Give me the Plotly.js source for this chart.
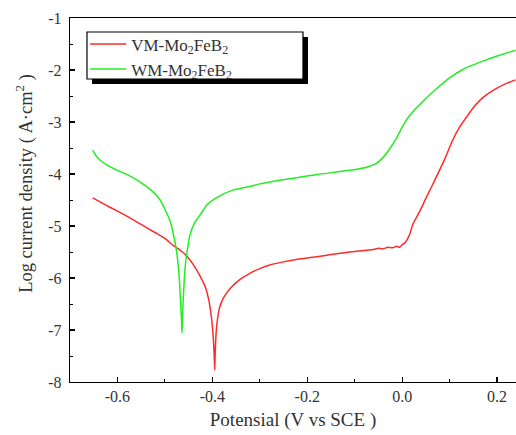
<!DOCTYPE html>
<html>
<head>
<meta charset="utf-8">
<script src="https://cdn.plot.ly/plotly-3.0.1.min.js"></script>
<style>html,body{margin:0;padding:0;background:#fff;}#chart{width:516px;height:435px;}</style>
</head>
<body>
<div id="chart"></div>
<script>
// VM-Mo2FeB2 (red)
const vmPotential = [-0.652, -0.62, -0.584, -0.55, -0.52, -0.50, -0.483, -0.464, -0.450, -0.438, -0.426, -0.415, -0.408, -0.402, -0.398, -0.396, -0.395, -0.394, -0.392, -0.389, -0.385, -0.380, -0.375, -0.37, -0.36, -0.35, -0.342, -0.33, -0.321, -0.30, -0.279, -0.25, -0.22, -0.18, -0.15, -0.11, -0.08, -0.06, -0.05, -0.041, -0.03, -0.02, -0.012, -0.005, 0.0, 0.005, 0.01, 0.016, 0.022, 0.030, 0.037, 0.05, 0.072, 0.09, 0.105, 0.121, 0.14, 0.155, 0.17, 0.19, 0.212, 0.239];
const vmLogI = [-4.46, -4.62, -4.79, -4.97, -5.13, -5.24, -5.37, -5.49, -5.62, -5.77, -5.96, -6.17, -6.40, -6.75, -7.15, -7.50, -7.77, -7.45, -7.05, -6.78, -6.58, -6.45, -6.36, -6.29, -6.18, -6.09, -6.03, -5.96, -5.91, -5.82, -5.75, -5.69, -5.64, -5.59, -5.55, -5.50, -5.47, -5.45, -5.43, -5.44, -5.41, -5.42, -5.39, -5.41, -5.36, -5.33, -5.27, -5.16, -4.98, -4.84, -4.72, -4.47, -4.06, -3.71, -3.38, -3.10, -2.85, -2.67, -2.53, -2.40, -2.29, -2.19];

// WM-Mo2FeB2 (green)
const wmPotential = [-0.652, -0.645, -0.637, -0.62, -0.60, -0.575, -0.553, -0.53, -0.51, -0.49, -0.483, -0.476, -0.472, -0.469, -0.467, -0.465, -0.464, -0.463, -0.461, -0.459, -0.456, -0.452, -0.447, -0.437, -0.426, -0.412, -0.39, -0.357, -0.321, -0.30, -0.251, -0.20, -0.18, -0.11, -0.075, -0.055, -0.041, -0.025, -0.012, 0.0, 0.009, 0.025, 0.044, 0.07, 0.10, 0.13, 0.17, 0.20, 0.239];
const wmLogI = [-3.54, -3.65, -3.73, -3.84, -3.93, -4.03, -4.15, -4.30, -4.50, -4.88, -5.12, -5.45, -5.75, -6.10, -6.45, -6.80, -7.06, -6.75, -6.35, -6.00, -5.68, -5.42, -5.17, -4.93, -4.79, -4.60, -4.45, -4.31, -4.24, -4.19, -4.11, -4.04, -4.01, -3.93, -3.87, -3.80, -3.69, -3.50, -3.31, -3.10, -2.96, -2.78, -2.60, -2.38, -2.15, -1.98, -1.83, -1.73, -1.62];

const seriesNames = ["VM-Mo<sub>2</sub>FeB<sub>2</sub>", "WM-Mo<sub>2</sub>FeB<sub>2</sub>"];
const xTickVals = [-0.6, -0.4, -0.2, 0.0, 0.2];
const xTickText = ["-0.6", "-0.4", "-0.2", "0.0", "0.2"];
const yTickVals = [-8, -7, -6, -5, -4, -3, -2, -1];
const yTickText = ["-8", "-7", "-6", "-5", "-4", "-3", "-2", "-1"];
const xTitle = "Potensial (V vs SCE )";
const yTitle = "Log current density ( A·cm<sup>2</sup> )";

const serif = "Liberation Serif, Times New Roman, serif";

const traces = [
  {x: vmPotential, y: vmLogI, name: seriesNames[0], legendgroup: "vm", mode: "lines",
   line: {color: "#ff2a2a", width: 1.5, shape: "spline", smoothing: 0.5}},
  {x: wmPotential, y: wmLogI, name: seriesNames[1], legendgroup: "wm", mode: "lines",
   line: {color: "#22ee22", width: 1.5, shape: "spline", smoothing: 0.5}}
];

const axisCommon = {
  showgrid: false, zeroline: false, showline: true, linecolor: "#000", linewidth: 1.2,
  ticks: "inside", ticklen: 5, tickwidth: 1.2, tickcolor: "#000",
  tickfont: {family: serif, size: 16, color: "#333"}
};

const layout = {
  width: 516, height: 435,
  margin: {l: 70, r: 0, t: 18, b: 53},
  paper_bgcolor: "#fff", plot_bgcolor: "#fff",
  showlegend: true,
  legend: {
    x: 0.034, y: 0.977, xanchor: "left", yanchor: "top",
    bgcolor: "rgba(0,0,0,0)", borderwidth: 0,
    font: {family: serif, size: 17, color: "#333"},
    traceorder: "grouped", tracegroupgap: 0, itemwidth: 36
  },
  xaxis: Object.assign({}, axisCommon, {
    range: [-0.7, 0.24], mirror: true,
    tickvals: xTickVals, ticktext: xTickText,
    minor: {ticks: "inside", ticklen: 3, tickwidth: 1, tickcolor: "#000", dtick: 0.1, tick0: -0.7},
    title: {text: xTitle, font: {family: serif, size: 19, color: "#333"}, standoff: 8}
  }),
  yaxis: Object.assign({}, axisCommon, {
    range: [-8, -1], ticklabelstandoff: 4,
    tickvals: yTickVals, ticktext: yTickText,
    minor: {ticks: "inside", ticklen: 3, tickwidth: 1, tickcolor: "#000", dtick: 0.5, tick0: -8}
  }),
  annotations: [
    {text: yTitle, textangle: -90, xref: "paper", yref: "paper", x: -0.101, y: 0.547,
     xanchor: "center", yanchor: "middle", showarrow: false,
     font: {family: serif, size: 18.5, color: "#333"}}
  ],
  shapes: [
    {type: "rect", xref: "paper", yref: "paper", x0: 0.0493, x1: 0.5336, y0: 0.8187, y1: 0.9478,
     fillcolor: "#000", line: {width: 0}, layer: "above"},
    {type: "rect", xref: "paper", yref: "paper", x0: 0.0381, x1: 0.5224, y0: 0.8324, y1: 0.9615,
     fillcolor: "#fff", line: {color: "#000", width: 1.2}, layer: "above"}
  ]
};

Plotly.newPlot("chart", traces, layout, {displayModeBar: false, staticPlot: true});
</script>
</body>
</html>
